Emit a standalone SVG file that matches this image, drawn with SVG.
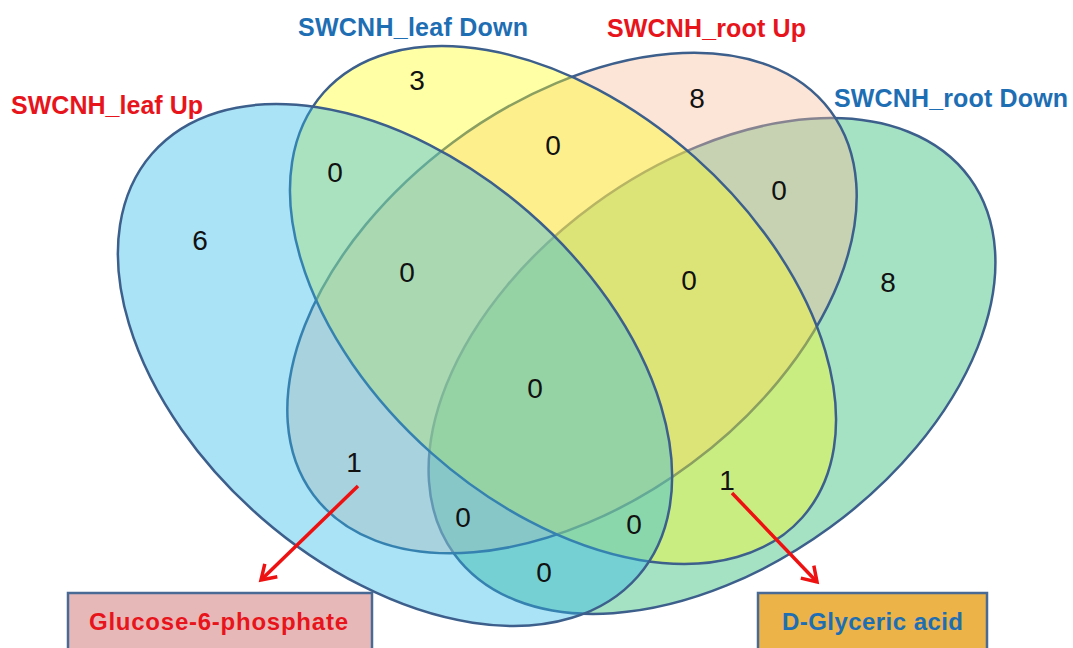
<svg xmlns="http://www.w3.org/2000/svg" width="1073" height="648" viewBox="0 0 1073 648">
<defs>
<style>
.set{stroke:#3C5F8C;stroke-width:2.5;fill-opacity:0.4}
.lbl{font-family:"Liberation Sans",Arial,sans-serif;font-weight:bold;font-size:25px}
.red{fill:#E8141C}
.blue{fill:#1E6EB4}
.num{font-family:"Liberation Sans",Arial,sans-serif;font-size:28px;fill:#111;text-anchor:middle}
.box{stroke:#4A6A96;stroke-width:2.5}
.btxt{font-family:"Liberation Sans",Arial,sans-serif;font-weight:bold;font-size:24px}
.arrow{stroke:#EE1111;stroke-width:3.5;fill:none}
</style>
<marker id="head" markerUnits="userSpaceOnUse" markerWidth="30" markerHeight="30" viewBox="-20 -15 24 30" refX="0" refY="0" orient="auto">
<path d="M-14,-9 L0,0 L-14,9" fill="none" stroke="#EE1111" stroke-width="3.5"/>
</marker>
</defs>
<rect width="1073" height="648" fill="#FFFFFF"/>
<g id="set-root-down">
<ellipse class="set" cx="712" cy="366" rx="319" ry="200" transform="rotate(-36.1 712 366)" fill="#1EB76C"/>
<text class="lbl blue" x="834" y="107" textLength="234" lengthAdjust="spacing">SWCNH_root Down</text>
</g>
<g id="set-root-up">
<ellipse class="set" cx="572" cy="303" rx="322" ry="200" transform="rotate(-36.6 572 303)" fill="#F8BC99"/>
<text class="lbl red" x="607" y="37" textLength="199" lengthAdjust="spacing">SWCNH_root Up</text>
</g>
<g id="set-leaf-down">
<ellipse class="set" cx="563" cy="305" rx="320" ry="198" transform="rotate(41.6 563 305)" fill="#FFFF1E"/>
<text class="lbl blue" x="298" y="36" textLength="230" lengthAdjust="spacing">SWCNH_leaf Down</text>
</g>
<g id="set-leaf-up">
<ellipse class="set" cx="395" cy="365" rx="322" ry="203" transform="rotate(41 395 365)" fill="#2BB7E9"/>
<text class="lbl red" x="11" y="114" textLength="192" lengthAdjust="spacing">SWCNH_leaf Up</text>
</g>
<g id="counts">
<text class="num" x="200" y="250">6</text>
<text class="num" x="417" y="90">3</text>
<text class="num" x="697" y="108">8</text>
<text class="num" x="888" y="292">8</text>
<text class="num" x="335" y="182">0</text>
<text class="num" x="553" y="155">0</text>
<text class="num" x="779" y="200">0</text>
<text class="num" x="407" y="282">0</text>
<text class="num" x="689" y="290">0</text>
<text class="num" x="535" y="398">0</text>
<text class="num" x="354" y="472">1</text>
<text class="num" x="727" y="490">1</text>
<text class="num" x="463" y="527">0</text>
<text class="num" x="634" y="534">0</text>
<text class="num" x="544" y="582">0</text>
</g>
<g id="box-glucose">
<rect class="box" x="68" y="593" width="304" height="70" fill="#E6B9B8"/>
<text class="btxt red" x="89" y="630" textLength="259" lengthAdjust="spacing">Glucose-6-phosphate</text>
</g>
<g id="box-glyceric">
<rect class="box" x="758" y="593" width="229" height="70" fill="#EBB348"/>
<text class="btxt blue" x="782" y="630" textLength="181" lengthAdjust="spacing">D-Glyceric acid</text>
</g>
<g id="connectors">
<line class="arrow" x1="358" y1="486" x2="261" y2="580" marker-end="url(#head)"/>
<line class="arrow" x1="732" y1="493" x2="817" y2="582" marker-end="url(#head)"/>
</g>
</svg>
